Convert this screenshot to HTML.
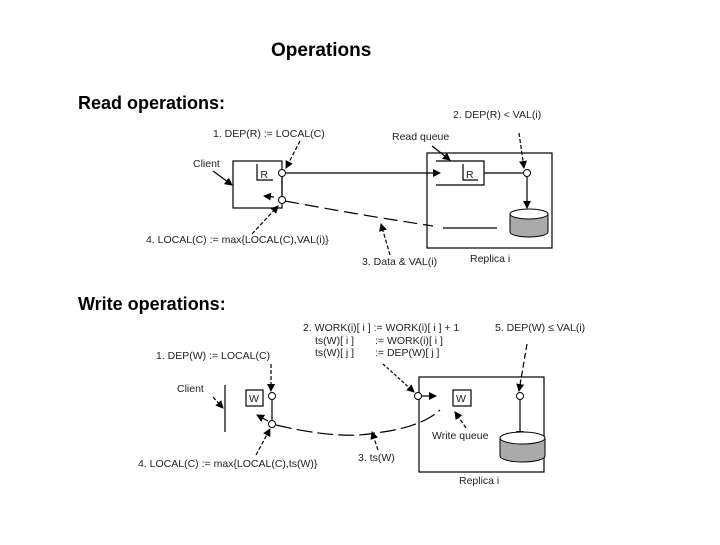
<!DOCTYPE html>
<html><head><meta charset="utf-8"><style>
body{margin:0;background:#fff;width:720px;height:540px;overflow:hidden}
svg text{font-family:"Liberation Sans",sans-serif}
.s{font-size:10.5px;fill:#222}
.h{font-size:18px;font-weight:bold;fill:#000}
</style></head><body>
<svg width="720" height="540" viewBox="0 0 720 540" xmlns="http://www.w3.org/2000/svg">
<defs><marker id="a" markerWidth="8" markerHeight="8" refX="7" refY="4" orient="auto" markerUnits="userSpaceOnUse"><path d="M0,0 L8,4 L0,8 z" fill="#000"/></marker></defs>
<text x="271" y="56" class="h" style="font-size:19px">Operations</text>
<text x="78" y="109" class="h">Read operations:</text>
<text x="78" y="310" class="h">Write operations:</text>

<g stroke="#000" stroke-width="1.2" fill="none">
<!-- Read diagram -->
<rect x="233" y="161" width="49" height="47"/>
<path d="M257 164 V180 H273"/>
<line x1="282" y1="177" x2="282" y2="197"/>
<line x1="286" y1="173" x2="440" y2="173" marker-end="url(#a)"/>
<rect x="427" y="153" width="125" height="95"/>
<path d="M436 161 H484 V185 H436"/>
<path d="M463 164 V180 H478"/>
<line x1="484" y1="173" x2="523" y2="173"/>
<line x1="527" y1="177" x2="527" y2="208" marker-end="url(#a)"/>
<path d="M285 201 Q360 215 433 226" stroke-dasharray="14,6"/>
<line x1="443" y1="228" x2="497" y2="228"/>
<line x1="274" y1="197" x2="264" y2="196" marker-end="url(#a)"/>
<line x1="213" y1="171" x2="232" y2="185" marker-end="url(#a)"/>
<line x1="300" y1="141" x2="286" y2="168" marker-end="url(#a)" stroke-dasharray="4,2"/>
<line x1="432" y1="146" x2="450" y2="160" marker-end="url(#a)"/>
<line x1="519" y1="133" x2="524" y2="168" marker-end="url(#a)" stroke-dasharray="4,2"/>
<line x1="252" y1="234" x2="278" y2="206" marker-end="url(#a)" stroke-dasharray="4,2"/>
<line x1="390" y1="255" x2="381" y2="224" marker-end="url(#a)" stroke-dasharray="4,2"/>
</g>
<circle cx="282" cy="173" r="3.5" fill="#fff" stroke="#000"/>
<circle cx="282" cy="200" r="3.5" fill="#fff" stroke="#000"/>
<circle cx="527" cy="173" r="3.5" fill="#fff" stroke="#000"/>
<path d="M510 214 V232 A19 5 0 0 0 548 232 V214 Z" fill="#aaa" stroke="#000"/>
<ellipse cx="529" cy="214" rx="19" ry="5" fill="#fff" stroke="#000"/>
<text x="268" y="178" class="s" text-anchor="end" font-size="11">R</text>
<text x="466" y="178" class="s">R</text>
<text x="213" y="137" class="s">1. DEP(R) := LOCAL(C)</text>
<text x="453" y="118" class="s">2. DEP(R) &lt; VAL(i)</text>
<text x="392" y="140" class="s">Read queue</text>
<text x="193" y="167" class="s">Client</text>
<text x="146" y="243" class="s">4. LOCAL(C) := max{LOCAL(C),VAL(i)}</text>
<text x="362" y="265" class="s">3. Data &amp; VAL(i)</text>
<text x="470" y="262" class="s">Replica i</text>

<!-- Write diagram -->
<g stroke="#000" stroke-width="1.2" fill="none">
<line x1="225" y1="385" x2="225" y2="432"/>
<rect x="246" y="390" width="17" height="16"/>
<line x1="272" y1="400" x2="272" y2="420"/>
<path d="M276 425 Q340 440 375 433 Q420 428 440 410" stroke-dasharray="16,5"/>
<rect x="419" y="377" width="125" height="95"/>
<line x1="422" y1="396" x2="436" y2="396" marker-end="url(#a)"/>
<rect x="453" y="390" width="18" height="16"/>
<line x1="520" y1="400" x2="520" y2="438" marker-end="url(#a)"/>
<line x1="268" y1="421" x2="257" y2="415" marker-end="url(#a)"/>
<line x1="213" y1="397" x2="223" y2="408" marker-end="url(#a)" stroke-dasharray="4,2"/>
<line x1="271" y1="364" x2="271" y2="391" marker-end="url(#a)" stroke-dasharray="4,2"/>
<line x1="383" y1="364" x2="414" y2="392" marker-end="url(#a)" stroke-dasharray="3,2"/>
<line x1="527" y1="344" x2="519" y2="391" marker-end="url(#a)" stroke-dasharray="6,3"/>
<line x1="256" y1="455" x2="270" y2="429" marker-end="url(#a)" stroke-dasharray="4,2"/>
<line x1="378" y1="450" x2="372" y2="432" marker-end="url(#a)" stroke-dasharray="4,2"/>
<line x1="466" y1="428" x2="455" y2="412" marker-end="url(#a)" stroke-dasharray="4,2"/>
</g>
<circle cx="272" cy="396" r="3.5" fill="#fff" stroke="#000"/>
<circle cx="272" cy="424" r="3.5" fill="#fff" stroke="#000"/>
<circle cx="418" cy="396" r="3.5" fill="#fff" stroke="#000"/>
<circle cx="520" cy="396" r="3.5" fill="#fff" stroke="#000"/>
<path d="M500 438 V456 A22.5 6 0 0 0 545 456 V438 Z" fill="#aaa" stroke="#000"/>
<ellipse cx="522.5" cy="438" rx="22.5" ry="6" fill="#fff" stroke="#000"/>
<text x="249" y="402" class="s">W</text>
<text x="456" y="402" class="s">W</text>
<text x="303" y="331" class="s">2. WORK(i)[ i ] := WORK(i)[ i ] + 1</text>
<text x="315" y="344" class="s">ts(W)[ i ]</text><text x="375" y="344" class="s">:= WORK(i)[ i ]</text>
<text x="315" y="356" class="s">ts(W)[ j ]</text><text x="375" y="356" class="s">:= DEP(W)[ j ]</text>
<text x="495" y="331" class="s">5. DEP(W) ≤ VAL(i)</text>
<text x="156" y="359" class="s">1. DEP(W) := LOCAL(C)</text>
<text x="177" y="392" class="s">Client</text>
<text x="432" y="439" class="s">Write queue</text>
<text x="358" y="461" class="s">3. ts(W)</text>
<text x="138" y="467" class="s">4. LOCAL(C) := max{LOCAL(C),ts(W)}</text>
<text x="459" y="484" class="s">Replica i</text>
</svg>
</body></html>
